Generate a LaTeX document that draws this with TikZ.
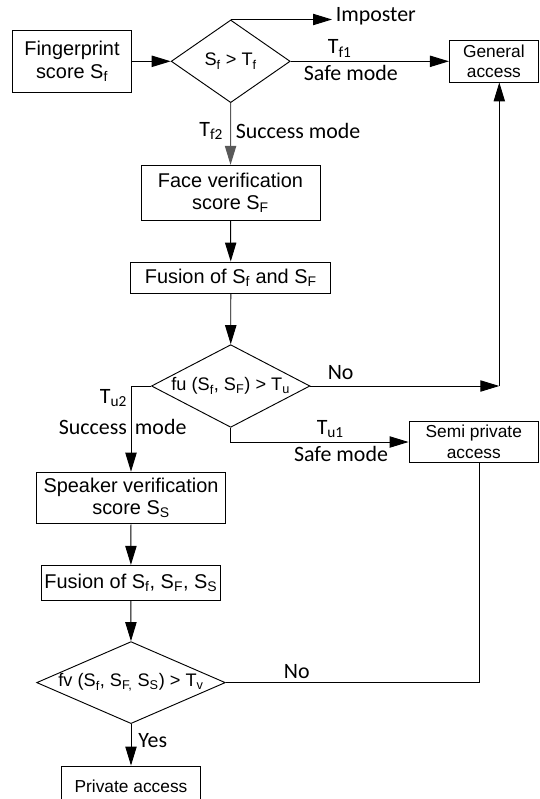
\documentclass[tikz,border=0pt]{standalone}
\usepackage{fontspec}
\setmainfont{Liberation Sans}
\newfontfamily\calibrifont{Carlito}
\usetikzlibrary{shapes.geometric, arrows.meta, positioning, calc}
\tikzstyle{process}  = [rectangle, draw=black, line width=0.8pt, text centered, align=center,
                        inner sep=0pt, font=\fontsize{17}{19}\selectfont]
\tikzstyle{access}   = [process, font=\fontsize{14.8}{17.7}\selectfont]
\tikzstyle{decision} = [diamond, draw=black, line width=0.8pt, text centered, inner sep=0pt,
                        font=\fontsize{15.5}{18}\selectfont]
\tikzstyle{note}     = [font=\calibrifont\fontsize{18.7}{22}\selectfont, inner sep=3pt]
\tikzstyle{arrow}    = [line width=0.8pt, ->, >={Triangle[length=0.57cm, width=0.34cm]}]
\tikzstyle{line}     = [line width=0.8pt]

\begin{document}
\begin{tikzpicture}[x=0.03cm, y=-0.03cm]
  \useasboundingbox (0,0) rectangle (540,799);

  % Boxes
  \node (finger) [process, minimum width=3.57cm, minimum height=1.86cm] at (72, 61.3)   {Fingerprint\\score S\textsubscript{f}};
  \node (face)   [process, minimum width=5.37cm, minimum height=1.66cm] at (230.5, 193) {Face verification\\score S\textsubscript{F}};
  \node (fus1)   [process, minimum width=5.99cm, minimum height=0.93cm] at (230.8, 277.5) {Fusion of S\textsubscript{f} and S\textsubscript{F}};
  \node (spk)    [process, minimum width=5.67cm, minimum height=1.55cm] at (131, 498)   {Speaker verification\\score S\textsubscript{S}};
  \node (fus2)   [process, minimum width=5.37cm, minimum height=1.04cm] at (130.9, 582.7) {Fusion of S\textsubscript{f}, S\textsubscript{F}, S\textsubscript{S}};

  % Access levels
  \node (gen)    [access, minimum width=2.67cm, minimum height=1.24cm]  at (493.9, 61.3) {General\\access};
  \node (semi)   [access, minimum width=3.885cm, minimum height=1.24cm] at (473.8, 442)  {Semi private\\access};
  \node (priv)   [access, minimum width=4.185cm, minimum height=1.24cm] at (131, 786.7)  {Private access};

  % Decisions
  \node (d1) [decision, aspect=1.44, minimum width=3.57cm, minimum height=2.48cm] at (230.7, 61.3) {S\textsubscript{f} > T\textsubscript{f}};
  \node (d2) [decision, aspect=1.92, minimum width=4.755cm, minimum height=2.48cm] at (230.7, 386) {fu (S\textsubscript{f}, S\textsubscript{F}) > T\textsubscript{u}};
  \node (d3) [decision, aspect=2.3, minimum width=5.66cm, minimum height=2.46cm] at (131, 682.6) {fv (S\textsubscript{f}, S\textsubscript{F,} S\textsubscript{S}) > T\textsubscript{v}};

  \node (imposter) [note, anchor=west] at (332, 16.5) {Imposter};
  \coordinate (nocorner) at (499.3, 386);
  \coordinate (vcorner)  at (479.3, 682.6);

  % Fingerprint stage
  \draw[arrow] (finger) -- (d1);
  \draw[arrow] (d1.north) -- (d1.north -| imposter.west);
  \draw[arrow] (d1) -- node[note, above, pos=0.31]{T\textsubscript{f1}} node[note, below, pos=0.38]{Safe mode} (gen);
  \draw[arrow, color=black!65] (d1) -- node[note, left, pos=0.45, black, xshift=-3pt]{T\textsubscript{f2}} node[note, right, pos=0.45, black, xshift=1pt]{Success mode} (face);

  % Face stage
  \draw[arrow] (face) -- (fus1);
  \draw[arrow] (fus1) -- (d2);
  \draw[arrow] (d2) -- node[note, above, pos=0.16, yshift=2pt]{No} (nocorner);
  \draw[arrow] (nocorner) -- (nocorner |- gen.south);
  \draw[arrow] (d2.west) -| node[note, left, pos=0.57]{T\textsubscript{u2}} node[note, left, pos=0.74]{Success} node[note, right, pos=0.74]{mode} (spk);
  \draw[arrow] (d2.south) |- node[note, above, pos=0.78]{T\textsubscript{u1}} node[note, below, pos=0.81]{Safe mode} (semi);

  % Speaker stage
  \draw[arrow] (spk) -- (fus2);
  \draw[arrow] (fus2) -- (d3);
  \draw[line] (d3) -- node[note, above, pos=0.28]{No} (vcorner) -- (vcorner |- semi.south);
  \draw[arrow] (d3) -- node[note, right, pos=0.4, xshift=3pt]{Yes} (priv);

\end{tikzpicture}
\end{document}
